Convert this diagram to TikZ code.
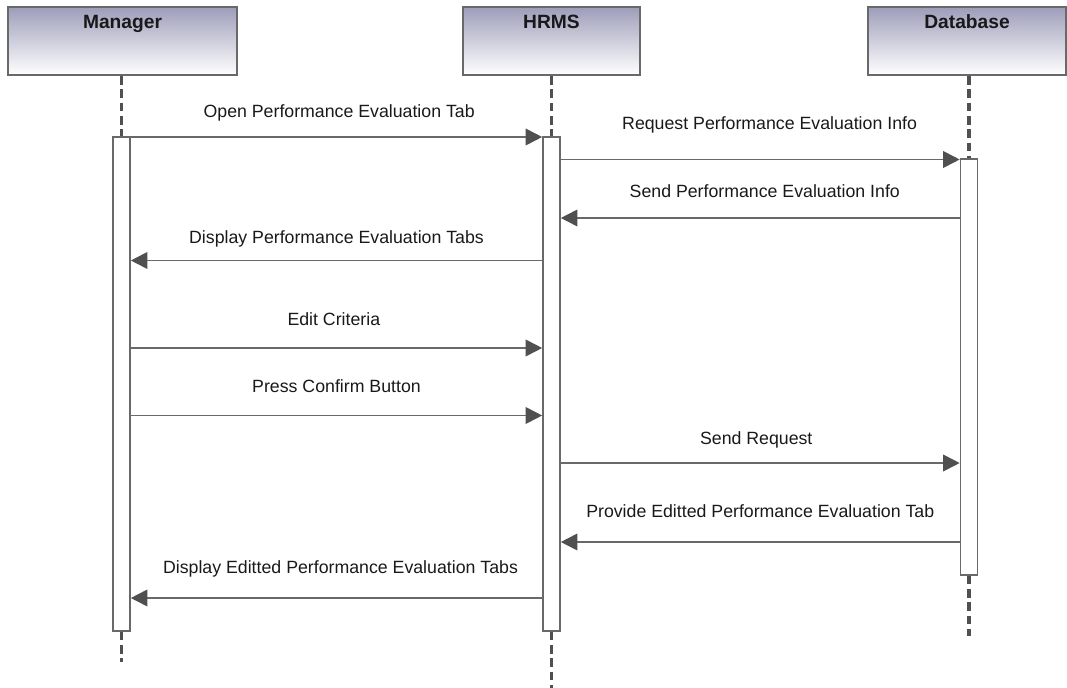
\documentclass[tikz,border=0pt]{standalone}
\usepackage{fontspec}
\setmainfont{Liberation Sans}
\usetikzlibrary{arrows.meta,positioning}

\definecolor{headtop}{RGB}{158,157,186}
\definecolor{framegray}{RGB}{105,105,105}
\definecolor{tipgray}{RGB}{80,80,80}

\begin{document}
\begin{tikzpicture}[x=0.75pt, y=-0.75pt]
        % Define styles
        \tikzstyle{header} = [rectangle, draw=framegray, line width=1.4pt,
            top color=headtop, bottom color=white, minimum height=51pt, inner sep=0pt]
        \tikzstyle{activation} = [rectangle, draw=framegray, line width=1.2pt,
            fill=white, minimum width=12.75pt, inner sep=0pt]
        \tikzstyle{lifeline} = [draw=tipgray, line width=2.3pt, dash pattern=on 6.5pt off 3.5pt]
        \tikzstyle{msg} = [draw=framegray, line width=1.35pt,
            -{Triangle[length=12.5pt, width=12.5pt, color=tipgray]}]
        \tikzstyle{lbl} = [anchor=base, inner sep=0pt, text=black!90,
            font=\fontsize{13.3}{16}\selectfont]
        \tikzstyle{title} = [anchor=base, inner sep=0pt, yshift=-17pt, text=black!90,
            font=\fontsize{14.4}{17}\selectfont\bfseries]

        \useasboundingbox (0,0) rectangle (1067,688);

        % Headers
        \node [header, minimum width=171.75pt, label={[title]north:Manager}] (manager) at (122.5,41) {};
        \node [header, minimum width=132.75pt, label={[title]north:HRMS}] (hrms) at (551.5,41) {};
        \node [header, minimum width=148.5pt, label={[title]north:Database}] (database) at (967,41) {};

        % Activation bars
        \node [activation, minimum height=370.5pt] (mgrAct) at (121.5,384) {};
        \node [activation, minimum height=370.5pt] (hrmsAct) at (551.5,384) {};
        \node [activation, minimum height=312pt] (dbAct) at (969,367) {};

        % Lifelines
        \coordinate (mgrEnd) at (121.5,662);
        \coordinate (hrmsEnd) at (551.5,692);
        \coordinate (dbEnd) at (969,636);
        \path [lifeline] (mgrAct.north |- manager.south) -- (mgrAct.north);
        \path [lifeline] (hrmsAct.north |- hrms.south) -- (hrmsAct.north);
        \path [lifeline] (dbAct.north |- database.south) -- (dbAct.north);
        \path [lifeline] (mgrAct.south) -- (mgrEnd);
        \path [lifeline] (hrmsAct.south) -- (hrmsEnd);
        \path [lifeline] (dbAct.south) -- (dbEnd);

        % Messages
        \path [msg] (mgrAct.east |- 0,137) -- node[lbl, yshift=14.6pt, xshift=2pt] {Open Performance Evaluation Tab} (hrmsAct.west |- 0,137);
        \path [msg] (hrmsAct.east |- 0,159.5) -- node[lbl, yshift=22.5pt, xshift=7pt] {Request Performance Evaluation Info} (dbAct.west |- 0,159.5);
        \path [msg] (dbAct.west |- 0,218) -- node[lbl, yshift=15.75pt, xshift=3.4pt] {Send Performance Evaluation Info} (hrmsAct.east |- 0,218);
        \path [msg] (hrmsAct.west |- 0,260.5) -- node[lbl, yshift=12.75pt] {Display Performance Evaluation Tabs} (mgrAct.east |- 0,260.5);
        \path [msg] (mgrAct.east |- 0,348) -- node[lbl, yshift=17.25pt, xshift=-2pt] {Edit Criteria} (hrmsAct.west |- 0,348);
        \path [msg] (mgrAct.east |- 0,415.5) -- node[lbl, yshift=17.25pt] {Press Confirm Button} (hrmsAct.west |- 0,415.5);
        \path [msg] (hrmsAct.east |- 0,463) -- node[lbl, yshift=14.25pt, xshift=-3pt] {Send Request} (dbAct.west |- 0,463);
        \path [msg] (dbAct.west |- 0,542) -- node[lbl, yshift=18.75pt] {Provide Editted Performance Evaluation Tab} (hrmsAct.east |- 0,542);
        \path [msg] (hrmsAct.west |- 0,598) -- node[lbl, yshift=18.75pt, xshift=3pt] {Display Editted Performance Evaluation Tabs} (mgrAct.east |- 0,598);
    \end{tikzpicture}
\end{document}
